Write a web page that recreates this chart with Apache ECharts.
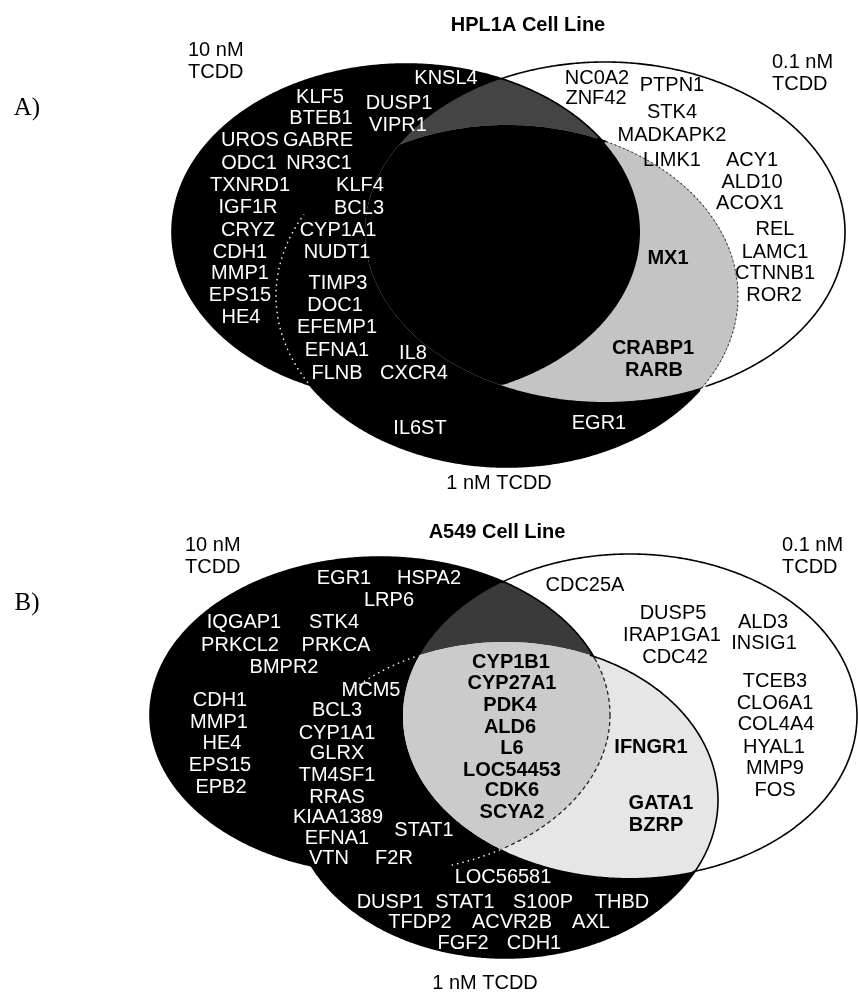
<!DOCTYPE html>
<html><head><meta charset="utf-8">
<script src="https://cdn.jsdelivr.net/npm/echarts/dist/echarts.min.js"></script>
<style>html,body{margin:0;padding:0;background:#fff}#c{width:858px;height:995px}</style>
</head><body><div id="c"></div>
<script>
// ================= DATA (gene lists per Venn region) =================
const panelTitles = ["HPL1A Cell Line", "A549 Cell Line"];
const panelLetters = ["A)", "B)"];
const setLabel10 = "10 nM\nTCDD";
const setLabel01 = "0.1 nM\nTCDD";
const setLabel1 = "1 nM TCDD";

// HPL1A
const hpl1a_10only = ["KNSL4","KLF5","DUSP1","BTEB1","VIPR1","UROS","GABRE","ODC1","NR3C1","TXNRD1","IGF1R","CRYZ","CDH1","MMP1","EPS15","HE4"];
const hpl1a_10and1 = ["KLF4","BCL3","CYP1A1","NUDT1","TIMP3","DOC1","EFEMP1","EFNA1","IL8","FLNB","CXCR4"];
const hpl1a_1only = ["IL6ST","EGR1"];
const hpl1a_01only = ["NC0A2","PTPN1","ZNF42","STK4","MADKAPK2","LIMK1","ACY1","ALD10","ACOX1","REL","LAMC1","CTNNB1","ROR2"];
const hpl1a_01and1 = ["MX1","CRABP1","RARB"];
// A549
const a549_10only = ["EGR1","HSPA2","LRP6","IQGAP1","STK4","PRKCL2","PRKCA","BMPR2","CDH1","MMP1","HE4","EPS15","EPB2"];
const a549_10and1 = ["MCM5","BCL3","CYP1A1","GLRX","TM4SF1","RRAS","KIAA1389","STAT1","EFNA1","VTN","F2R"];
const a549_1only = ["LOC56581","DUSP1","STAT1","S100P","THBD","TFDP2","ACVR2B","AXL","FGF2","CDH1"];
const a549_01only = ["CDC25A","DUSP5","IRAP1GA1","CDC42","ALD3","INSIG1","TCEB3","CLO6A1","COL4A4","HYAL1","MMP9","FOS"];
const a549_all3 = ["CYP1B1","CYP27A1","PDK4","ALD6","L6","LOC54453","CDK6","SCYA2"];
const a549_01and1 = ["IFNGR1","GATA1","BZRP"];

// ================= LAYOUT (positions in axis units) =================
const L_hpl1a_10only = [[446,78],[320,97],[399,103],[321,118],[398,125],[250,140],[318,140],[249,163],[319,163],[250,185],[248,207],[248,230],[240,252],[240,273],[240,295],[241,317]];
const L_hpl1a_10and1 = [[360,185],[359,208],[338,230],[337,252],[338,283],[335,305],[337,327],[337,350],[413,353],[337,373],[414,373]];
const L_hpl1a_1only = [[420,428],[599,423]];
const L_hpl1a_01only = [[597,78],[672,85],[596,98],[672,112],[672,135],[672,160],[752,160],[752,182],[750,203],[775,229],[775,252],[775,273],[774,295]];
const L_hpl1a_01and1 = [[668,258],[653,348],[654,370]];
const L_a549_10only = [[344,578],[429,578],[389,600],[244,622],[334,622],[240,645],[336,645],[284,667],[220,700],[219,722],[222,743],[220,765],[221,787]];
const L_a549_10and1 = [[371,690],[337,710],[337,733],[337,753],[337,775],[337,797],[338,817],[424,830],[337,838],[329,858],[394,858]];
const L_a549_1only = [[503,877],[390,902],[465,902],[543,902],[622,902],[420,922],[512,922],[591,922],[463,943],[534,943]];
const L_a549_01only = [[585,585],[673,613],[672,635],[675,657],[763,622],[764,643],[775,681],[775,703],[776,724],[774,747],[775,768],[775,790]];
const L_a549_all3 = [[511,662],[512,683],[510,705],[510,727],[512,748],[512,770],[512,790],[512,812]];
const L_a549_01and1 = [[651,747],[661,803],[656,825]];

// ellipses [cx, cy, rx, ry, rotationDeg]
const SHAPES = [
  {A:[406,232,234,168,0], B:[507,296,231,171,0], C:[605,232,240,170,0]},
  {A:[380,715,230,158,0], B:[505,800,213,158,0], C:[630,716,227,162,0]}
];
const FILLS = [
  {top:'#444444', cres:'#c4c4c4', triple:'#000000', cresEdge:'dot'},
  {top:'#3a3a3a', cres:'#e6e6e6', triple:'#cbcbcb', cresEdge:'solid'}
];
// boxes where a white dotted outline is visible inside black areas [xmin,xmax,ymin,ymax]
const DOTBOX = [
  {B:[250,330,215,395]},
  {B:[350,425,640,700], A:[450,505,840,880]}
];
const FONT = 'Liberation Sans, Arial, sans-serif';

// ================= GEOMETRY HELPERS =================
const N = 720;
function ell(e){const th=(e[4]||0)*Math.PI/180,c=Math.cos(th),s=Math.sin(th),o=[];
  for(let i=0;i<N;i++){const t=2*Math.PI*i/N,x=e[2]*Math.cos(t),y=e[3]*Math.sin(t);o.push([e[0]+x*c-y*s,e[1]+x*s+y*c]);}return o;}
function inE(e,p){const th=(e[4]||0)*Math.PI/180,c=Math.cos(th),s=Math.sin(th);const dx=p[0]-e[0],dy=p[1]-e[1];
  const x=dx*c+dy*s,y=-dx*s+dy*c;return x*x/(e[2]*e[2])+y*y/(e[3]*e[3])<=1;}
function inter(es){const pts=[];es.forEach((e,i)=>{ell(e).forEach(p=>{if(es.every((f,j)=>j===i||inE(f,p)))pts.push(p);});});
  if(!pts.length)return pts;let cx=0,cy=0;pts.forEach(p=>{cx+=p[0];cy+=p[1];});cx/=pts.length;cy/=pts.length;
  pts.sort((a,b)=>Math.atan2(a[1]-cy,a[0]-cx)-Math.atan2(b[1]-cy,b[0]-cx));return pts;}
function kindAt(k,p){const P=SHAPES[k],F=FILLS[k];const a=inE(P.A,p),b=inE(P.B,p),c=inE(P.C,p);
  let col;if(a&&b&&c)col=F.triple;else if(a&&c)col=F.top;else if(b&&c)col=F.cres;else if(a||b)col='#000000';else col='#ffffff';
  if(col==='#000000')return 'k';if(col==='#ffffff')return 'w';if(col===F.top)return 'd';return 'l';}
const EDGE = {
  solid:{stroke:'#000',lineWidth:1.6},
  dot:{stroke:'#333',lineWidth:1.2,lineDash:[1.5,3]},
  wdot:{stroke:'#fff',lineWidth:1.4,lineDash:[1.5,4]},
  dash:{stroke:'#222',lineWidth:1.3,lineDash:[4,3]}
};
function edgeKey(k,key,m,a,b){const s=[a,b].sort().join('');
  if(s==='ww'||s==='kw'||s==='dw')return 'solid';
  if(s==='lw')return FILLS[k].cresEdge;
  if(s==='ll')return 'dash';
  if(s==='kk'){const bx=DOTBOX[k][key];if(bx&&m[0]>=bx[0]&&m[0]<=bx[1]&&m[1]>=bx[2]&&m[1]<=bx[3])return 'wdot';}
  return null;}

function renderPanel(params, api){
  const k=api.value(0),P=SHAPES[k],F=FILLS[k];
  const px=pts=>pts.map(p=>api.coord(p));
  const ch=[];
  const poly=(pts,fill)=>{if(pts.length>2)ch.push({type:'polygon',shape:{points:px(pts)},style:{fill:fill,stroke:null}});};
  poly(ell(P.C),'#ffffff');poly(ell(P.A),'#000000');poly(ell(P.B),'#000000');
  poly(inter([P.A,P.C]),F.top);poly(inter([P.B,P.C]),F.cres);poly(inter([P.A,P.B,P.C]),F.triple);
  ['A','B','C'].forEach(key=>{
    const e=P[key],pts=ell(e);let cur=null,ck=null;
    const flush=()=>{if(cur&&ck&&cur.length>1)ch.push({type:'polyline',shape:{points:px(cur)},style:Object.assign({fill:null},EDGE[ck])});};
    for(let i=0;i<N;i++){const p=pts[i],q=pts[(i+1)%N],m=[(p[0]+q[0])/2,(p[1]+q[1])/2];
      const dx=e[0]-m[0],dy=e[1]-m[1],Ln=Math.hypot(dx,dy);
      const pin=[m[0]+dx/Ln*2.5,m[1]+dy/Ln*2.5],pout=[m[0]-dx/Ln*2.5,m[1]-dy/Ln*2.5];
      const s=edgeKey(k,key,m,kindAt(k,pin),kindAt(k,pout));
      if(s!==ck){flush();cur=s?[p]:null;ck=s;}
      if(cur)cur.push(q);}
    flush();
  });
  return {type:'group',children:ch};
}

// ================= LABELS =================
function items(names,pos,color,weight,size,family,align){
  return names.map((n,i)=>({name:n,value:pos[i],label:{color:color,fontWeight:weight||'normal',fontSize:size||20,fontFamily:family||FONT,align:align||'center'}}));}
const labelData = [].concat(
  items(hpl1a_10only,L_hpl1a_10only,'#fff'),
  items(hpl1a_10and1,L_hpl1a_10and1,'#fff'),
  items(hpl1a_1only,L_hpl1a_1only,'#fff'),
  items(hpl1a_01only,L_hpl1a_01only,'#000'),
  items(hpl1a_01and1,L_hpl1a_01and1,'#000','bold'),
  items(a549_10only,L_a549_10only,'#fff'),
  items(a549_10and1,L_a549_10and1,'#fff'),
  items(a549_1only,L_a549_1only,'#fff'),
  items(a549_01only,L_a549_01only,'#000'),
  items(a549_all3,L_a549_all3,'#000','bold'),
  items(a549_01and1,L_a549_01and1,'#000','bold'),
  items(panelTitles,[[528,25],[497,532]],'#000','bold',20),
  items(panelLetters,[[27,108],[27,603]],'#000','normal',25,'Liberation Serif, Times New Roman, serif'),
  items([setLabel1,setLabel1],[[499,483],[485,983]],'#000'),
  items([setLabel10,setLabel10],[[188,61],[185,556]],'#000','normal',20,FONT,'left'),
  items([setLabel01,setLabel01],[[772,73],[782,556]],'#000','normal',20,FONT,'left')
);

const chart = echarts.init(document.getElementById('c'), null, {renderer:'canvas'});
chart.setOption({
  animation:false,
  backgroundColor:'#ffffff',
  grid:{left:0,right:0,top:0,bottom:0},
  xAxis:{type:'value',min:0,max:858,show:false},
  yAxis:{type:'value',min:0,max:995,inverse:true,show:false},
  series:[
    {type:'custom',renderItem:renderPanel,data:[[0],[1]],clip:false,silent:true,z:1},
    {type:'scatter',symbolSize:0,silent:true,z:5,data:labelData,
     itemStyle:{opacity:1},
     label:{show:true,position:'inside',formatter:'{b}',verticalAlign:'middle',lineHeight:22,opacity:1,textBorderWidth:0,textShadowBlur:0}}
  ]
});
</script></body></html>
